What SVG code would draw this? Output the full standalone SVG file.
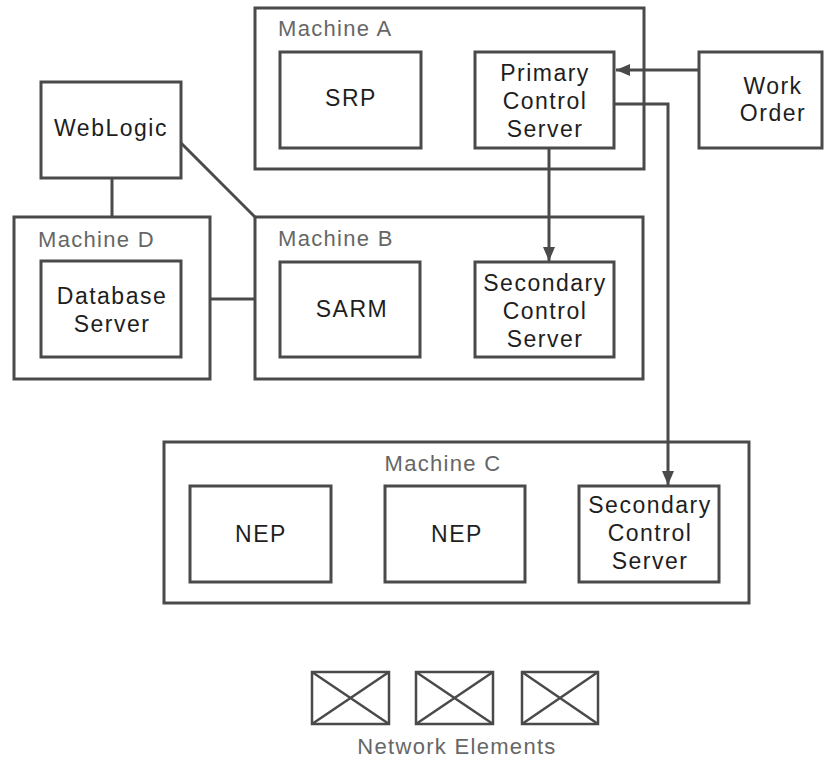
<svg xmlns="http://www.w3.org/2000/svg" width="828" height="758" viewBox="0 0 828 758">
<style>
.box{fill:#fff;stroke:#4a4a4a;stroke-width:3}
.t{font-family:"Liberation Sans",Arial,sans-serif;font-size:23px;letter-spacing:1.5px;fill:#1e1e1e;text-anchor:middle}
.lbl{font-family:"Liberation Sans",Arial,sans-serif;font-size:22px;letter-spacing:1.3px;fill:#666}
.c{fill:none;stroke:#4a4a4a;stroke-width:3}
.ne{fill:none;stroke:#4a4a4a;stroke-width:2.5}
</style>
<defs>
<marker id="arr" viewBox="0 0 14 12" refX="14" refY="6" markerWidth="14" markerHeight="12" orient="auto" markerUnits="userSpaceOnUse">
<path d="M0,0 L14,6 L0,12 Z" fill="#4a4a4a"/>
</marker>
</defs>
<rect width="828" height="758" fill="#fff"/>

<g id="machineA">
<rect class="box" x="255" y="8" width="389" height="161"/>
<text class="lbl" x="278" y="36">Machine A</text>
</g>
<g id="machineB">
<rect class="box" x="255" y="217" width="388" height="162"/>
<text class="lbl" x="278" y="246">Machine B</text>
</g>
<g id="machineD">
<rect class="box" x="14" y="217" width="196" height="162"/>
<text class="lbl" x="38" y="247">Machine D</text>
</g>
<g id="machineC">
<rect class="box" x="164" y="442" width="585" height="161"/>
<text class="lbl" x="443" y="471" text-anchor="middle">Machine C</text>
</g>

<g id="srp">
<rect class="box" x="280" y="52" width="141" height="96"/>
<text class="t" x="351" y="106">SRP</text>
</g>
<g id="primary">
<rect class="box" x="475" y="52" width="139" height="96"/>
<text class="t" x="545" y="81">Primary</text>
<text class="t" x="545" y="109">Control</text>
<text class="t" x="545" y="137">Server</text>
</g>
<g id="workorder">
<rect class="box" x="699" y="52" width="123" height="96"/>
<text class="t" x="773" y="94">Work</text>
<text class="t" x="773" y="121">Order</text>
</g>
<g id="weblogic">
<rect class="box" x="41" y="82" width="140" height="96"/>
<text class="t" x="111" y="136">WebLogic</text>
</g>
<g id="database">
<rect class="box" x="41" y="261" width="140" height="96"/>
<text class="t" x="112" y="304">Database</text>
<text class="t" x="112" y="332">Server</text>
</g>
<g id="sarm">
<rect class="box" x="280" y="262" width="140" height="95"/>
<text class="t" x="352" y="317">SARM</text>
</g>
<g id="secondaryB">
<rect class="box" x="475" y="262" width="139" height="95"/>
<text class="t" x="545" y="291">Secondary</text>
<text class="t" x="545" y="319">Control</text>
<text class="t" x="545" y="347">Server</text>
</g>
<g id="nep1">
<rect class="box" x="190" y="486" width="141" height="96"/>
<text class="t" x="261" y="542">NEP</text>
</g>
<g id="nep2">
<rect class="box" x="385" y="486" width="140" height="96"/>
<text class="t" x="457" y="542">NEP</text>
</g>
<g id="secondaryC">
<rect class="box" x="579" y="486" width="140" height="96"/>
<text class="t" x="650" y="513">Secondary</text>
<text class="t" x="650" y="541">Control</text>
<text class="t" x="650" y="569">Server</text>
</g>

<g id="networkElements">
<rect class="ne" x="312" y="672" width="77" height="52"/>
<path class="ne" d="M312,672 L389,724 M389,672 L312,724"/>
<rect class="ne" x="416" y="672" width="77" height="52"/>
<path class="ne" d="M416,672 L493,724 M493,672 L416,724"/>
<rect class="ne" x="522" y="672" width="76" height="52"/>
<path class="ne" d="M522,672 L598,724 M598,672 L522,724"/>
<text class="lbl" x="457" y="754" text-anchor="middle">Network Elements</text>
</g>

<g id="connectors">
<line class="c" x1="699" y1="70" x2="616" y2="70" marker-end="url(#arr)"/>
<polyline class="c" points="614,104 668,104 668,485" marker-end="url(#arr)"/>
<line class="c" x1="549" y1="148" x2="549" y2="261" marker-end="url(#arr)"/>
<line class="c" x1="112" y1="178" x2="112" y2="217"/>
<line class="c" x1="181" y1="143" x2="255" y2="217"/>
<line class="c" x1="210" y1="299" x2="255" y2="299"/>
</g>
</svg>
